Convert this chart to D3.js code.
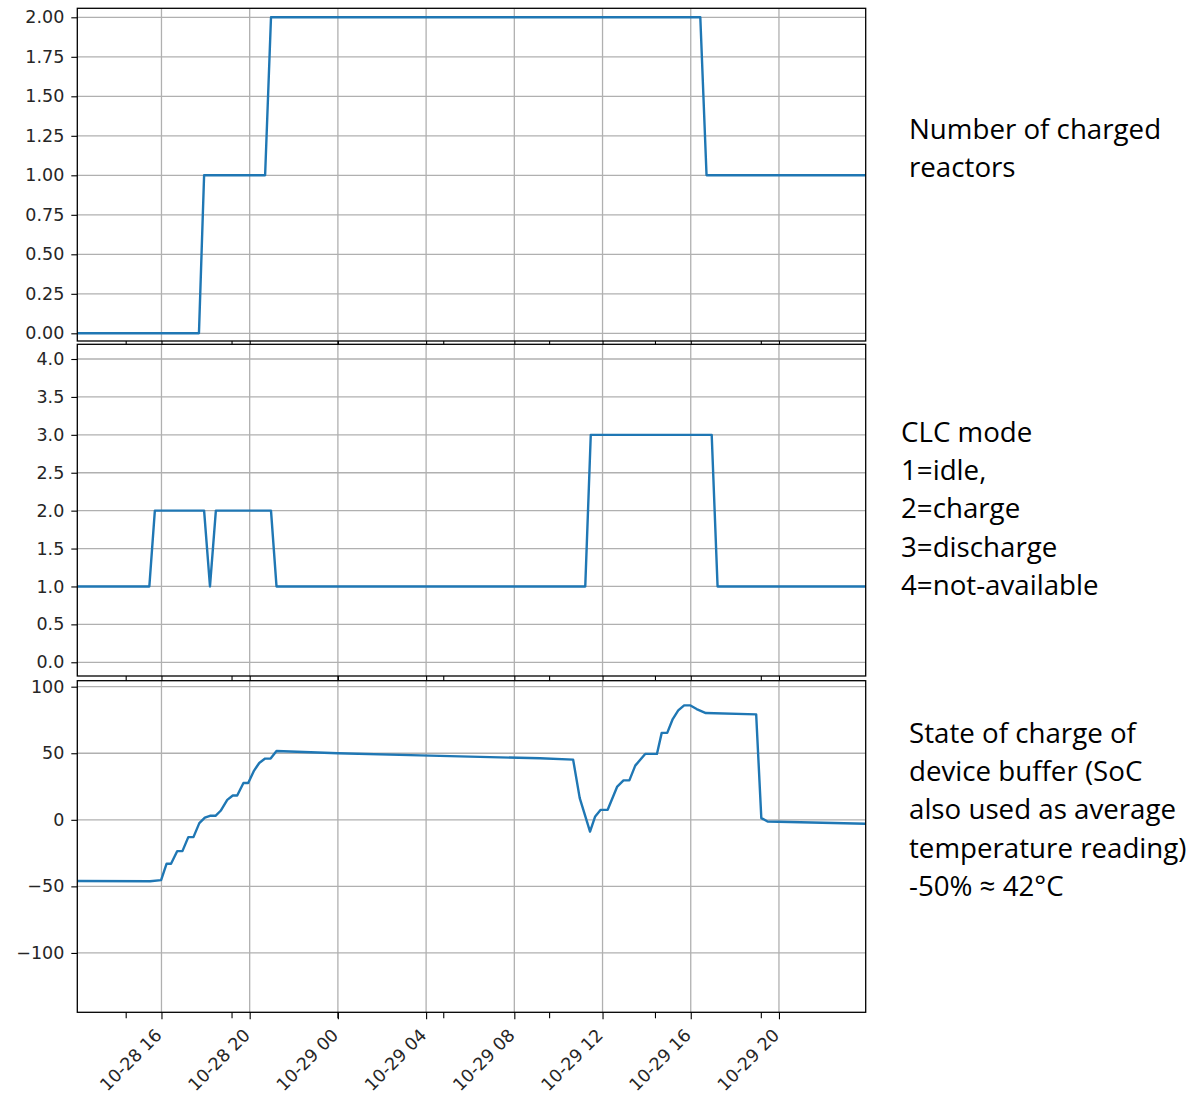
<!DOCTYPE html>
<html>
<head>
<meta charset="utf-8">
<script src="https://cdn.jsdelivr.net/npm/d3@7"></script>
<style>
  html, body { margin: 0; padding: 0; background: #fff; }
  svg { display: block; }
</style>
</head>
<body>
<svg id="chart" width="1195" height="1095"></svg>
<script>
// ---- data (timestamps where the signal changes slope, sampled every ~15 min) ----
const timeStart = "2021-10-28 12:11";
const timeEnd   = "2021-10-29 23:56";

const chargedTimes = ["2021-10-28 12:11","2021-10-28 17:42","2021-10-28 17:56","2021-10-28 20:42",
                      "2021-10-28 20:58","2021-10-29 16:26","2021-10-29 16:43","2021-10-29 23:56"];
const chargedValues = [0, 0, 1, 1, 2, 2, 1, 1];

const modeTimes = ["2021-10-28 12:11","2021-10-28 15:27","2021-10-28 15:42","2021-10-28 17:56",
                   "2021-10-28 18:12","2021-10-28 18:28","2021-10-28 20:58","2021-10-28 21:13",
                   "2021-10-29 11:13","2021-10-29 11:28","2021-10-29 16:57","2021-10-29 17:13",
                   "2021-10-29 23:56"];
const modeValues = [1, 1, 2, 2, 1, 2, 2, 1, 1, 3, 3, 1, 1];

const socTimes = ["2021-10-28 12:11","2021-10-28 15:29","2021-10-28 15:59","2021-10-28 16:14",
                  "2021-10-28 16:26","2021-10-28 16:43","2021-10-28 16:57","2021-10-28 17:13",
                  "2021-10-28 17:27","2021-10-28 17:43","2021-10-28 17:58","2021-10-28 18:12",
                  "2021-10-28 18:27","2021-10-28 18:41","2021-10-28 18:59","2021-10-28 19:14",
                  "2021-10-28 19:26","2021-10-28 19:43","2021-10-28 19:56","2021-10-28 20:12",
                  "2021-10-28 20:26","2021-10-28 20:42","2021-10-28 20:57","2021-10-28 21:13",
                  "2021-10-29 00:00","2021-10-29 03:43","2021-10-29 09:10","2021-10-29 10:40",
                  "2021-10-29 10:58","2021-10-29 11:26","2021-10-29 11:40","2021-10-29 11:55",
                  "2021-10-29 12:14","2021-10-29 12:40","2021-10-29 12:57","2021-10-29 13:13",
                  "2021-10-29 13:29","2021-10-29 13:56","2021-10-29 14:28","2021-10-29 14:41",
                  "2021-10-29 14:56","2021-10-29 15:11","2021-10-29 15:26","2021-10-29 15:42",
                  "2021-10-29 15:58","2021-10-29 16:16","2021-10-29 16:41","2021-10-29 18:58",
                  "2021-10-29 19:12","2021-10-29 19:29","2021-10-29 23:56"];
const socValues = [-46, -46.2, -45.3, -33, -33, -23.5, -23.5, -13, -13, -2.5, 1.7, 3, 3, 6.8, 15, 18.3,
                   18.3, 27.6, 27.6, 37, 42.7, 46, 46, 51.7, 50, 48.4, 46.2, 45.2, 16.3, -8.8, 2.5,
                   7.5, 7.5, 25, 29.6, 29.6, 40.7, 49.5, 49.5, 65.3, 65.3, 75.7, 82.2, 86, 86, 83.2,
                   80.2, 79.2, 1.3, -1.3, -3];

// y tick values per panel
const chargedTicks = [0, 0.25, 0.5, 0.75, 1, 1.25, 1.5, 1.75, 2];
const modeTicks = [0, 0.5, 1, 1.5, 2, 2.5, 3, 3.5, 4];
const socTicks = [-100, -50, 0, 50, 100];

// secondary x ticks every 0.2 day
const minorTickTimes = ["2021-10-28 14:24","2021-10-28 19:12","2021-10-29 00:00","2021-10-29 04:48",
                        "2021-10-29 09:36","2021-10-29 14:24","2021-10-29 19:12"];

// side notes
const chargedNote = ["Number of charged", "reactors"];
const modeNote = ["CLC mode", "1=idle,", "2=charge", "3=discharge", "4=not-available"];
const socNote = ["State of charge of", "device buffer (SoC", "also used as average",
                 "temperature reading)", "-50% \u2248 42\u00B0C"];

// ---- layout ----
const parse = d3.timeParse("%Y-%m-%d %H:%M");
const svg = d3.select("#chart");
const left = 77.3, right = 865.7;
const x = d3.scaleTime().domain([parse(timeStart), parse(timeEnd)]).range([left, right]);
const majorTicks = x.ticks(d3.timeHour.every(4));
const minorTicks = minorTickTimes.map(parse);

const panels = [
  { top: 8.3, bottom: 341, domain: [-0.0487, 2.057], ticks: chargedTicks, fmt: d3.format(".2f"),
    times: chargedTimes, values: chargedValues, note: chargedNote, noteX: 909, noteY: 139 },
  { top: 344.3, bottom: 676, domain: [-0.181, 4.194], ticks: modeTicks, fmt: d3.format(".1f"),
    times: modeTimes, values: modeValues, note: modeNote, noteX: 901, noteY: 442 },
  { top: 680.7, bottom: 1012.3, domain: [-144.6, 104.5], ticks: socTicks, fmt: d3.format("d"),
    times: socTimes, values: socValues, note: socNote, noteX: 909, noteY: 743 }
];

const tickFont = "'DejaVu Sans', sans-serif";
const tickSize = 17.5;
const noteFont = "'Open Sans', Lato, sans-serif";
const gridColor = "#b0b0b0";
const lineColor = "#1f77b4";

panels.forEach((p, i) => {
  const y = d3.scaleLinear().domain(p.domain).range([p.bottom, p.top]);
  const g = svg.append("g");
  const clipId = "clip" + i;

  g.append("clipPath").attr("id", clipId)
    .append("rect").attr("x", left).attr("y", p.top)
    .attr("width", right - left).attr("height", p.bottom - p.top);

  // background
  g.append("rect").attr("x", left).attr("y", p.top)
    .attr("width", right - left).attr("height", p.bottom - p.top).attr("fill", "#fff");

  // grid
  g.append("g").selectAll("line").data(majorTicks).join("line")
    .attr("x1", d => x(d)).attr("x2", d => x(d)).attr("y1", p.top).attr("y2", p.bottom)
    .attr("stroke", gridColor).attr("stroke-width", 1.3);
  g.append("g").selectAll("line").data(p.ticks).join("line")
    .attr("x1", left).attr("x2", right).attr("y1", d => y(d)).attr("y2", d => y(d))
    .attr("stroke", gridColor).attr("stroke-width", 1.3);

  // series
  const pts = p.times.map((t, k) => [parse(t), p.values[k]]);
  g.append("path").datum(pts)
    .attr("clip-path", `url(#${clipId})`)
    .attr("fill", "none").attr("stroke", lineColor).attr("stroke-width", 2.4)
    .attr("stroke-linejoin", "round")
    .attr("d", d3.line().x(d => x(d[0])).y(d => y(d[1])));

  // y axis
  const ya = g.append("g").attr("transform", `translate(${left},0)`)
    .call(d3.axisLeft(y).tickValues(p.ticks).tickFormat(p.fmt).tickSize(6).tickPadding(7));
  ya.select(".domain").remove();
  ya.selectAll("line").attr("stroke", "#000").attr("stroke-width", 1.1);
  ya.selectAll("text").attr("font-family", tickFont).attr("font-size", tickSize).attr("fill", "#262626");

  // x ticks along the panel bottom
  const xa = g.append("g").attr("transform", `translate(0,${p.bottom})`)
    .call(d3.axisBottom(x).tickValues(majorTicks).tickSize(7).tickFormat(i === 2 ? d3.timeFormat("%m-%d %H") : ""));
  xa.select(".domain").remove();
  xa.selectAll("line").attr("stroke", "#000").attr("stroke-width", 1.1);
  if (i === 2) {
    xa.selectAll("text")
      .attr("font-family", tickFont).attr("font-size", tickSize).attr("fill", "#262626")
      .attr("text-anchor", "end")
      .attr("x", 0).attr("y", 0).attr("dy", 0)
      .attr("transform", "translate(1,24) rotate(-45)");
  }
  g.append("g").selectAll("line").data(minorTicks).join("line")
    .attr("x1", d => x(d)).attr("x2", d => x(d)).attr("y1", p.bottom).attr("y2", p.bottom + 6)
    .attr("stroke", "#000").attr("stroke-width", 1.1);

  // frame
  g.append("rect").attr("x", left).attr("y", p.top)
    .attr("width", right - left).attr("height", p.bottom - p.top)
    .attr("fill", "none").attr("stroke", "#000").attr("stroke-width", 1.3);

  // side note
  svg.append("text")
    .attr("font-family", noteFont).attr("font-size", 27.7).attr("fill", "#000")
    .selectAll("tspan").data(p.note).join("tspan")
    .attr("x", p.noteX).attr("y", (d, k) => p.noteY + k * 38.2)
    .text(d => d);
});
</script>
</body>
</html>
